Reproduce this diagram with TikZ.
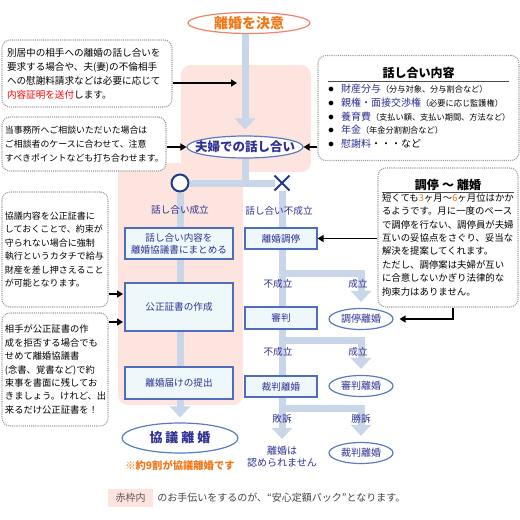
\documentclass[tikz,border=0pt]{standalone}
\usepackage{fontspec}
\setmainfont{Noto Sans CJK JP}
\usepackage{tikz}
\usetikzlibrary{arrows.meta,positioning,shapes.geometric,shapes.misc,backgrounds}

\definecolor{pinkbg}{HTML}{FDE4DE}
\definecolor{barblue}{HTML}{C9D5E8}
\definecolor{boxfill}{HTML}{EEF8FB}
\definecolor{boxline}{HTML}{4F6DB8}
\definecolor{textblue}{HTML}{2E3192}
\definecolor{ellline}{HTML}{5B7BC0}
\definecolor{topline}{HTML}{F08468}
\definecolor{toptext}{HTML}{F07818}
\definecolor{markblue}{HTML}{1F3A8A}

\newcommand{\fsize}[2]{\fontsize{#1}{#2}\selectfont}
\newcommand{\topic}[2]{\makebox[13pt][l]{\fsize{13}{13.75}$\bullet$}{\color{textblue}#1}{#2}\par}

\begin{document}
\begin{tikzpicture}[x=1pt,y=-1pt,
    bar/.style={draw=barblue,line width=7pt},
    bararrow/.style={bar,-{Triangle[width=20pt,length=11pt]}},
    stepbox/.style={draw=boxline,line width=1.2pt,fill=boxfill,text=textblue,
      font=\fsize{9.6}{12},align=center,minimum width=108pt},
    result/.style={ellipse,draw=ellline,line width=1.2pt,fill=white,text=textblue,
      font=\fsize{10}{12},minimum width=64pt,minimum height=21pt,inner sep=0pt},
    lbl/.style={text=textblue,font=\fsize{9.6}{12}},
    note/.style={draw=gray!75,densely dotted,line width=1.1pt,rounded corners=8pt,
      fill=white,align=left,inner sep=4pt},
    pointer/.style={draw=black,line width=1.5pt,-{Triangle[length=6pt,width=7pt]}}]
    \useasboundingbox (0,0) rectangle (520,520);

    % Main flow
    \node[ellipse,draw=topline,line width=1.2pt,fill=white,text=toptext,
      font=\fsize{14}{16}\bfseries,minimum width=122pt,minimum height=21pt,
      inner sep=0pt] (decide) at (249,23) {離婚を決意};
    \node[ellipse,draw=ellline,line width=1.2pt,fill=white,text=textblue,
      font=\fsize{12.5}{14}\bfseries,minimum width=116pt,minimum height=22pt,
      inner sep=0pt] (talk) at (245,147) {\makebox[60pt]{夫婦での話し合い}};
    \node[circle,draw=markblue,line width=2pt,fill=white,minimum size=17pt,
      inner sep=0pt] (okmark) at (180,183) {};
    \node[cross out,draw=markblue,line width=2pt,minimum size=13pt,
      inner sep=0pt] (ngmark) at (282,183) {};

    % Agreement side
    \node[lbl] (oklbl) at (180,210) {話し合い成立};
    \node[stepbox,minimum height=31pt] (agree) at (179,243.5) {話し合い内容を\\離婚協議書にまとめる};
    \node[stepbox,minimum height=48pt] (notary) at (179,307) {公正証書の作成};
    \node[stepbox,minimum height=32pt] (submit) at (179,383) {離婚届けの提出};
    \node[ellipse,draw=ellline,line width=1.2pt,fill=white,text=textblue,
      font=\fsize{13}{15}\bfseries,minimum width=116pt,minimum height=30pt,
      inner sep=0pt] (kyogi) at (180,438) {協\hspace{3pt}議\hspace{3pt}離\hspace{3pt}婚};
    \node[text=toptext,font=\fsize{10.3}{12}\bfseries] (ratio) at (180,465) {※約9割が協議離婚です};

    % Disagreement side
    \node[lbl] (nglbl) at (279,211) {話し合い不成立};
    \node[stepbox,minimum width=72pt,minimum height=21pt] (mediate) at (281,238.5) {離婚調停};
    \node[stepbox,minimum width=72pt,minimum height=22pt] (judge) at (281,318) {審判};
    \node[stepbox,minimum width=72pt,minimum height=21pt] (trial) at (281,386.5) {裁判離婚};
    \node[result] (medDiv) at (361,319) {調停離婚};
    \node[result] (judgeDiv) at (361,386) {審判離婚};
    \node[result] (courtDiv) at (361,453) {裁判離婚};
    \node[text=textblue,font=\fsize{10}{12},align=center] (nocourt) at (282,457) {離婚は\\認められません};
    \coordinate (br1) at (282,273);
    \coordinate (br2) at (282,340);
    \coordinate (br3) at (282,408);
    \node[lbl] (fail1) at (278,284) {不成立};
    \node[lbl] (pass1) at (358,284) {成立};
    \node[lbl] (fail2) at (278,352) {不成立};
    \node[lbl] (pass2) at (358,352) {成立};
    \node[lbl] (lose) at (282,419) {敗訴};
    \node[lbl] (win) at (361,419) {勝訴};

    % Left notes
    \node[note,minimum width=170pt,minimum height=67pt,text width=160pt,
      font=\fsize{9.6}{14}] (n1) at (87,73.5)
      {別居中の相手への離婚の話し合いを\\要求する場合や、夫(妻)の不倫相手\\への慰謝料請求などは必要に応じて\\{\color{red}内容証明を送付}します。};
    \node[note,minimum width=164pt,minimum height=54pt,text width=158pt,
      inner xsep=3pt,font=\fsize{8.9}{14}] (n2) at (84,144)
      {当事務所へご相談いただいた場合は\\ご相談者のケースに合わせて、注意\\すべきポイントなども打ち合わせます。};
    \node[note,minimum width=106pt,minimum height=115pt,text width=100pt,
      inner xsep=3pt,font=\fsize{9}{13.5}] (n3) at (55,249.5)
      {協議内容を公正証書に\\しておくことで、約束が\\守られない場合に強制\\執行というカタチで給与\\財産を差し押さえること\\が可能となります。};
    \node[note,minimum width=106pt,minimum height=113pt,text width=100pt,
      inner xsep=3pt,font=\fsize{9.3}{13.4}] (n4) at (55,369.5)
      {相手が公正証書の作\\成を拒否する場合でも\\せめて離婚協議書\\(念書、覚書など)で約\\束事を書面に残してお\\きましょう。けれど、出\\来るだけ公正証書を！};

    % Right notes
    \node[note,minimum width=201pt,minimum height=105pt,text width=181pt,
      inner xsep=10pt,font=\fsize{10}{13.75}] (n5) at (418.5,108)
      {{\centering\fsize{12}{14}\bfseries 話し合い内容\par}\vspace{2pt}%
       {\color{black!70}\hrule height 1pt}\vspace{2pt}%
       \topic{財産分与}{\fsize{8.2}{13.75}（分与対象、分与割合など）}%
       \topic{親権・面接交渉権}{\fsize{8.2}{13.75}（必要に応じ監護権）}%
       \topic{養育費}{\fsize{8.2}{13.75}（支払い額、支払い期間、方法など）}%
       \topic{年金}{\fsize{8.2}{13.75}（年金分割割合など）}%
       \topic{慰謝料}{・・・など}};
    \node[note,minimum width=140pt,minimum height=139pt,text width=132pt,
      font=\fsize{9.4}{13.4}] (n6) at (448,237.5)
      {{\centering\fsize{12}{14}\bfseries 調停 ～ 離婚\par}\vspace{1pt}%
       {\color{black!70}\hrule height 1pt}\vspace{1pt}%
       短くても{\color{toptext}3}ヶ月～{\color{toptext}6}ヶ月位はかか\\るようです。月に一度のペース\\で調停を行ない、調停員が夫婦\\互いの妥協点をさぐり、妥当な\\解決を提案してくれます。\\ただし、調停案は夫婦が互い\\に合意しないかぎり法律的な\\拘束力はありません。};

    % Note pointers
    \coordinate (n1tip) at (237,83);
    \coordinate (p3) at (123,294);
    \coordinate (p4) at (123,322);
    \draw[pointer] (n1.east |- n1tip) -- (n1tip);
    \draw[pointer] (n2.east |- talk) -- (talk.west);
    \draw[pointer] (n3.east |- p3) -- (p3);
    \draw[pointer] (n4.east |- p4) -- (p4);
    \draw[pointer] (n5.west |- talk) -- (talk.east);
    \draw[pointer] (n6.west |- mediate) -- (mediate.east);
    \draw[pointer,shorten >=6pt] ([xshift=5pt]n6.south) |- (medDiv.east);

    % Footer
    \node[fill=pinkbg,text=black!65,font=\fsize{10}{12},minimum width=45pt,
      minimum height=18pt,inner sep=0pt] (frame) at (130.5,498) {赤枠内};
    \node[right=4pt of frame,text=black!75,font=\fsize{10}{12},inner sep=0pt] (footer)
      {のお手伝いをするのが、“安心定額パック”となります。};

    \begin{scope}[on background layer]
      % Red frame area
      \fill[pinkbg,rounded corners=10pt] (181,65) rectangle (311,172);
      \fill[pinkbg,rounded corners=10pt] (118,163) rectangle (243,405);
      % Flow bars
      \draw[bararrow,shorten >=6pt] (talk |- decide.south) -- (talk);
      \draw[bar] (talk) -- (talk |- okmark);
      \draw[bar] (okmark) -- (ngmark);
      \draw[bararrow,shorten >=5pt] (okmark) -- (kyogi);
      \draw[bararrow,shorten >=4pt] (ngmark) -- (nocourt);
      \draw[bararrow,shorten >=6pt] (br1) -| (medDiv);
      \draw[bararrow,shorten >=6pt] (br2) -| (judgeDiv);
      \draw[bararrow,shorten >=6pt] (br3) -| (courtDiv);
    \end{scope}
\end{tikzpicture}
\end{document}
